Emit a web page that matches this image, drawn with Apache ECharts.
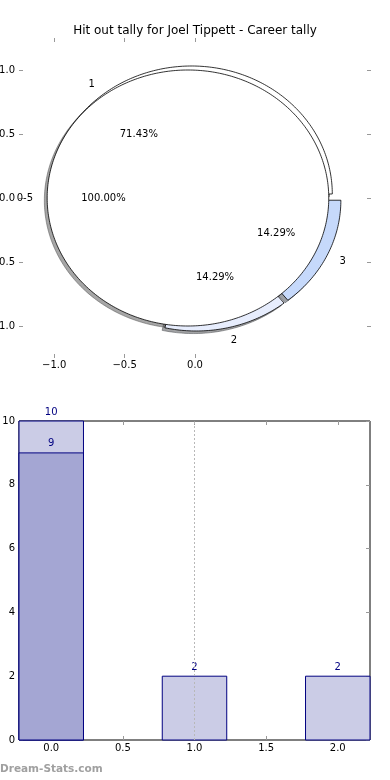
<!DOCTYPE html>
<html>
<head>
<meta charset="utf-8">
<script src="https://cdn.jsdelivr.net/npm/echarts@6/dist/echarts.min.js"></script>
<style>html,body{margin:0;padding:0;background:#fff;}#c{width:390px;height:780px;}</style>
</head>
<body>
<div id="c"></div>
<script>
// ---- data ----
const titleText = 'Hit out tally for Joel Tippett - Career tally';
const pieALabels = ['1', '2', '3'];
const pieAValues = [5, 1, 1];
const pieBLabels = ['0-5'];
const pieBValues = [7];
const pieXTicks = [-1, -0.5, 0];
const pieYTicks = [-1, -0.5, 0, 0.5, 1];
const barX = [0, 1, 2];
const barTotals = [10, 2, 2];
const barSecondX = [0];
const barSecondValues = [9];
const refLineX = [1.0];
const barXTicks = [0, 0.5, 1, 1.5, 2];
const barYTicks = [0, 2, 4, 6, 8, 10];
const watermark = 'Dream-Stats.com';

// ---- style ----
const FONT = 'DejaVu Sans';
const pieAColors = ['#ffffff', '#e7edfd', '#c6d9fb'];
const pieBColors = ['#ffffff'];
const pieAExplode = 0.04, pieBExplode = 0.05;
const shadowOff = [-0.02, -0.02];
const barWidth = 0.45;
const barLight = '#cbcce6', barDark = '#a4a6d3', barEdge = '#000080';
const tickColor = '#999999';

function buildSlices(values, explode) {
  const total = values.reduce((a, b) => a + b, 0);
  let cum = 0;
  return values.map(v => {
    const a0 = cum / total * 360;
    cum += v;
    const a1 = cum / total * 360;
    const mid = (a0 + a1) / 2 * Math.PI / 180;
    return { a0, a1, pct: v / total * 100, cx: explode * Math.cos(mid), cy: explode * Math.sin(mid), mid };
  });
}
const slicesA = buildSlices(pieAValues, pieAExplode);
const slicesB = buildSlices(pieBValues, pieBExplode);

function wedgePts(api, cx, cy, a0, a1) {
  const pts = [];
  const full = (a1 - a0) >= 359.999;
  if (!full) pts.push(api.coord([cx, cy]));
  const n = Math.max(4, Math.ceil(a1 - a0));
  for (let k = 0; k <= n; k++) {
    const t = (a0 + (a1 - a0) * k / n) * Math.PI / 180;
    pts.push(api.coord([cx + Math.cos(t), cy + Math.sin(t)]));
  }
  return pts;
}
function shade(hex) {
  const r = parseInt(hex.slice(1, 3), 16), g = parseInt(hex.slice(3, 5), 16), b = parseInt(hex.slice(5, 7), 16);
  return 'rgba(' + Math.round(r * 0.3) + ',' + Math.round(g * 0.3) + ',' + Math.round(b * 0.3) + ',0.5)';
}

const allSlices = slicesA.map((s, i) => ({ s, color: pieAColors[i] })).concat(slicesB.map((s, i) => ({ s, color: pieBColors[i] })));
const labelItems = slicesA.map((s, i) => ({ s, label: pieALabels[i] })).concat(slicesB.map((s, i) => ({ s, label: pieBLabels[i] })));

const fmt1 = v => (v < 0 ? '\u2212' : '') + Math.abs(v).toFixed(1);

function tickAxis(grid, pos, ticks, showLabel, extra) {
  return Object.assign({
    gridIndex: grid, type: 'value', position: pos,
    axisLine: { show: false, onZero: false },
    splitLine: { show: false },
    axisTick: { show: true, inside: true, length: 4, lineStyle: { color: tickColor, width: 1 }, customValues: ticks },
    axisLabel: { show: showLabel, customValues: ticks, fontFamily: FONT, fontSize: 10, color: '#000' }
  }, extra || {});
}

const chart = echarts.init(document.getElementById('c'), null, { renderer: 'canvas' });
const option = {
  animation: false,
  backgroundColor: '#fff',
  title: { text: titleText, left: 'center', top: 20, textStyle: { fontFamily: FONT, fontSize: 12, fontWeight: 'normal', color: '#000' } },
  graphic: [{ type: 'text', left: 0, top: 764, style: { text: watermark, font: 'bold 10.5px "DejaVu Sans"', fill: '#a0a0a0' } }],
  grid: [
    { left: 19, top: 38, width: 352, height: 320, show: false, containLabel: false, outerBoundsMode: 'none' },
    { left: 19, top: 421, width: 351, height: 319, show: true, borderColor: '#000', borderWidth: 1, backgroundColor: 'transparent', containLabel: false, outerBoundsMode: 'none' }
  ],
  xAxis: [
    tickAxis(0, 'bottom', pieXTicks, true, { min: -1.25, max: 1.25, axisLabel: { customValues: pieXTicks, formatter: fmt1, margin: 2, fontFamily: FONT, fontSize: 10, color: '#000' } }),
    tickAxis(0, 'top', pieXTicks, false, { min: -1.25, max: 1.25 }),
    tickAxis(1, 'bottom', barXTicks, true, { min: -0.225, max: 2.225, axisLabel: { customValues: barXTicks, formatter: v => v.toFixed(1), margin: 3, fontFamily: FONT, fontSize: 10, color: '#000' } }),
    tickAxis(1, 'top', barXTicks, false, { min: -0.225, max: 2.225 })
  ],
  yAxis: [
    tickAxis(0, 'left', pieYTicks, true, { min: -1.25, max: 1.25, axisLabel: { customValues: pieYTicks, formatter: fmt1, margin: 4, fontFamily: FONT, fontSize: 10, color: '#000' } }),
    tickAxis(0, 'right', pieYTicks, false, { min: -1.25, max: 1.25 }),
    tickAxis(1, 'left', barYTicks, true, { min: 0, max: 10, interval: 2, axisLabel: { customValues: barYTicks, formatter: v => String(v), margin: 4, fontFamily: FONT, fontSize: 10, color: '#000' } }),
    tickAxis(1, 'right', barYTicks, false, { min: 0, max: 10, interval: 2 })
  ],
  series: [
    {
      type: 'custom', xAxisIndex: 0, yAxisIndex: 0, z: 2, clip: false, silent: true,
      data: allSlices.map(() => [0, 0]),
      renderItem: (params, api) => {
        const it = allSlices[params.dataIndex];
        const s = it.s;
        const c = shade(it.color);
        return { type: 'polygon', shape: { points: wedgePts(api, s.cx + shadowOff[0], s.cy + shadowOff[1], s.a0, s.a1) }, style: { fill: c, stroke: c, lineWidth: 1 } };
      }
    },
    {
      type: 'custom', xAxisIndex: 0, yAxisIndex: 0, z: 3, clip: false, silent: true,
      data: slicesA.map(() => [0, 0]),
      renderItem: (params, api) => {
        const s = slicesA[params.dataIndex];
        return { type: 'polygon', shape: { points: wedgePts(api, s.cx, s.cy, s.a0, s.a1) }, style: { fill: pieAColors[params.dataIndex], stroke: '#000', lineWidth: 0.8 } };
      }
    },
    {
      type: 'custom', xAxisIndex: 0, yAxisIndex: 0, z: 4, clip: false, silent: true,
      data: slicesB.map(() => [0, 0]),
      renderItem: (params, api) => {
        const s = slicesB[params.dataIndex];
        return { type: 'polygon', shape: { points: wedgePts(api, s.cx, s.cy, s.a0, s.a1) }, style: { fill: pieBColors[params.dataIndex], stroke: '#000', lineWidth: 0.8 } };
      }
    },
    {
      type: 'custom', xAxisIndex: 0, yAxisIndex: 0, z: 5, clip: false, silent: true,
      data: labelItems.map(() => [0, 0]),
      renderItem: (params, api) => {
        const it = labelItems[params.dataIndex];
        const s = it.s;
        const lx = s.cx + 1.1 * Math.cos(s.mid), ly = s.cy + 1.1 * Math.sin(s.mid);
        const px = s.cx + 0.6 * Math.cos(s.mid), py = s.cy + 0.6 * Math.sin(s.mid);
        const lp = api.coord([lx, ly]), pp = api.coord([px, py]);
        return {
          type: 'group', children: [
            { type: 'text', x: lp[0], y: lp[1], style: { text: it.label, font: '10px "DejaVu Sans"', fill: '#000', align: lx > 0 ? 'left' : 'right', verticalAlign: 'middle' } },
            { type: 'text', x: pp[0], y: pp[1], style: { text: s.pct.toFixed(2) + '%', font: '10px "DejaVu Sans"', fill: '#000', align: 'center', verticalAlign: 'middle' } }
          ]
        };
      }
    },
    {
      type: 'custom', xAxisIndex: 2, yAxisIndex: 2, z: 3, silent: true,
      data: barX.map((x, i) => [x, barTotals[i]]),
      renderItem: (params, api) => {
        const x = api.value(0), v = api.value(1);
        const p0 = api.coord([x - barWidth / 2, v]), p1 = api.coord([x + barWidth / 2, 0]);
        const top = api.coord([x, v]);
        return {
          type: 'group', children: [
            { type: 'rect', shape: { x: p0[0], y: p0[1], width: p1[0] - p0[0], height: p1[1] - p0[1] }, style: { fill: barLight, stroke: barEdge, lineWidth: 1 } },
            { type: 'text', x: top[0], y: top[1] - 9, z2: 10, style: { text: String(v), font: '10px "DejaVu Sans"', fill: barEdge, align: 'center', verticalAlign: 'middle' } }
          ]
        };
      }
    },
    {
      type: 'custom', xAxisIndex: 2, yAxisIndex: 2, z: 4, silent: true,
      data: barSecondX.map((x, i) => [x, barSecondValues[i]]),
      renderItem: (params, api) => {
        const x = api.value(0), v = api.value(1);
        const p0 = api.coord([x - barWidth / 2, v]), p1 = api.coord([x + barWidth / 2, 0]);
        const top = api.coord([x, v]);
        return {
          type: 'group', children: [
            { type: 'rect', shape: { x: p0[0], y: p0[1], width: p1[0] - p0[0], height: p1[1] - p0[1] }, style: { fill: barDark, stroke: barEdge, lineWidth: 1 } },
            { type: 'text', x: top[0], y: top[1] - 9, style: { text: String(v), font: '10px "DejaVu Sans"', fill: barEdge, align: 'center', verticalAlign: 'middle' } }
          ]
        };
      }
    },
    {
      type: 'custom', xAxisIndex: 2, yAxisIndex: 2, z: 5, silent: true,
      data: refLineX.map(x => [x, 0]),
      renderItem: (params, api) => {
        const x = api.value(0);
        const a = api.coord([x, 0]), b = api.coord([x, 10]);
        return { type: 'line', shape: { x1: a[0], y1: a[1], x2: b[0], y2: b[1] }, style: { stroke: '#b8b8b8', lineWidth: 1, lineDash: [2, 2] } };
      }
    }
  ]
};
chart.setOption(option);
</script>
</body>
</html>
